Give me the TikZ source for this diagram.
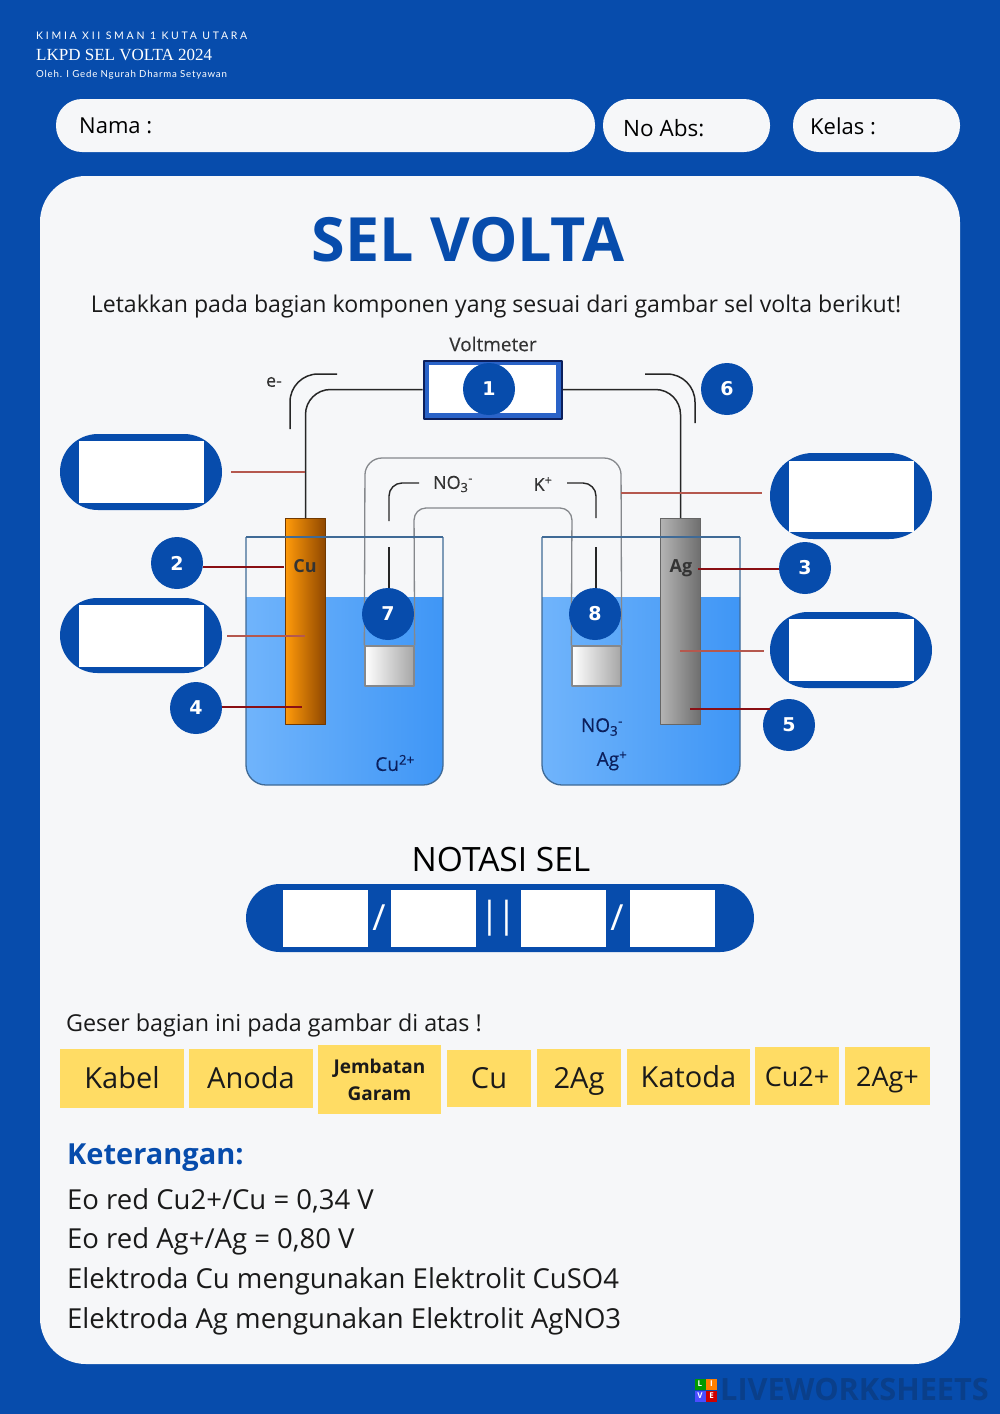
\documentclass[tikz,border=0pt]{standalone}
\usepackage{fontspec}
\setmainfont{Open Sans}
\newfontfamily\spacedfont[LetterSpace=26]{Lato}
\newfontfamily\thinfont[LetterSpace=8]{Lato}
\newfontfamily\headfont{Liberation Serif}
\newfontfamily\numfont{DejaVu Sans}
\newfontfamily\semifont[FakeBold=0.35]{Open Sans}
\definecolor{pageblue}{HTML}{074CAC}
\definecolor{panel}{HTML}{F6F7F9}
\definecolor{chipyellow}{HTML}{FFDC64}
\definecolor{ink}{HTML}{1A1A1A}
\definecolor{liqleft}{HTML}{70B4FB}
\definecolor{liqright}{HTML}{3F96F6}
\definecolor{glass}{HTML}{3F6A96}
\definecolor{bridgeline}{HTML}{85888C}
\definecolor{leadthin}{HTML}{B5584E}
\definecolor{leadthick}{HTML}{8A0F14}
\definecolor{navy}{HTML}{0B1F5C}
\definecolor{framer}{HTML}{2A63C8}
\definecolor{markdark}{HTML}{0A3F8A}
\definecolor{culeft}{HTML}{FF9A0A}
\definecolor{curight}{HTML}{8F4700}
\definecolor{agleft}{HTML}{B4B4B4}
\definecolor{agright}{HTML}{6E6E6E}
\tikzset{
  namepill/.style={fill=panel, rounded corners=26pt, minimum height=53pt, inner sep=0pt},
  blankpill/.style={fill=pageblue, inner sep=0pt},
  blankbox/.style={fill=white, inner sep=0pt},
  badge/.style={circle, fill=pageblue, minimum size=52pt, inner sep=0pt,
    text=white, font=\numfont\bfseries\fontsize{19}{19}\selectfont},
  chip/.style={fill=chipyellow, inner sep=0pt, align=center, text=ink},
  wire/.style={draw=black!85, line width=1.5pt, rounded corners=25pt},
  ionwire/.style={draw=black!85, line width=1.4pt, rounded corners=13pt},
  thinlead/.style={draw=leadthin, line width=1.5pt},
  thicklead/.style={draw=leadthick, line width=2.4pt},
  cellsign/.style={text=white, font=\fontsize{36}{36}\selectfont},
  plug/.style={draw=bridgeline, line width=1.3pt, left color=white, right color=black!35,
    minimum width=49pt, minimum height=40pt, inner sep=0pt},
  infoline/.style={anchor=west, inner sep=0pt, text=ink, font=\fontsize{27.5}{30}\selectfont},
  celltext/.style={inner sep=0pt, text=black!80, font=\semifont\fontsize{18}{20}\selectfont},
  liqtext/.style={inner sep=0pt, text=navy, font=\semifont\fontsize{19}{20}\selectfont},
}
\newcommand{\beaker}[2]{%
  \path[left color=liqleft, right color=liqright] (#1,597)
    [rounded corners=20pt] -- (#1,785) -- (#2,785) [sharp corners] -- (#2,597) -- cycle;
}
\newcommand{\beakerline}[2]{%
  \draw[glass, line width=1.3pt] (#1,537) -- (#2,537);
  \draw[glass, line width=1.3pt, rounded corners=20pt] (#1,537) -- (#1,785) -- (#2,785) -- (#2,537);
}
\newcommand{\blank}[7]{%
  \pgfmathsetmacro{\pillrad}{#5/2}%
  \node[blankpill, rounded corners=\pillrad pt, minimum width=#4pt, minimum height=#5pt] (#1) at (#2,#3) {};
  \node[blankbox, minimum width=#6pt, minimum height=#7pt] (#1box) at (#2,#3) {};
}
\newcommand{\chipbox}[6]{%
  \node[chip, minimum width=#4pt, minimum height=#5pt, text height=23pt, text depth=3pt,
    font=\fontsize{#6}{22}\selectfont] (chip#1) at (#2,#3) {#1};
}

\begin{document}
\begin{tikzpicture}[x=1pt, y=-1pt, line cap=butt, line join=round]
\useasboundingbox (0,0) rectangle (1000,1414);
\fill[pageblue] (0,0) rectangle (1000,1414);

\node[anchor=west, inner sep=0pt, text=white, font=\spacedfont\fontsize{10.5}{12}\selectfont] (school) at (36,36) {KIMIA XII SMAN 1 KUTA UTARA};
\node[anchor=west, inner sep=0pt, text=white, font=\headfont\fontsize{17}{18}\selectfont] (sheet) at (36,55) {LKPD SEL VOLTA 2024};
\node[anchor=west, inner sep=0pt, text=white, font=\thinfont\fontsize{9.7}{11}\selectfont] (author) at (36,75) {Oleh. I Gede Ngurah Dharma Setyawan};

\node[namepill, minimum width=539pt] (nama) at (325.5,125.5) {};
\node[namepill, minimum width=167pt] (abs) at (686.5,125.5) {};
\node[namepill, minimum width=167pt] (kelas) at (876.5,125.5) {};
\node[anchor=west, inner sep=0pt, text=black, font=\fontsize{22}{24}\selectfont] at (79,126) {Nama :};
\node[anchor=west, inner sep=0pt, text=black, font=\fontsize{22.5}{24}\selectfont] at (623,128) {No Abs:};
\node[anchor=west, inner sep=0pt, text=black, font=\fontsize{22}{24}\selectfont] at (810,126) {Kelas :};

\fill[panel, rounded corners=46pt] (40,176) rectangle (960,1364);

\node[inner sep=0pt, text=pageblue, font=\bfseries\fontsize{61}{64}\selectfont] (title) at (468,240) {SEL VOLTA};
\node[inner sep=0pt, text=ink, font=\fontsize{23.1}{28}\selectfont] (task) at (496,306) {Letakkan pada bagian komponen yang sesuai dari gambar sel volta berikut!};

\beaker{246}{443}
\beaker{542}{740}

\node[plug] (plugl) at (389.5,666) {};
\node[plug] (plugr) at (596.5,666) {};
\draw[bridgeline, line width=1.3pt, rounded corners=17pt]
  (plugl.north west) -- (365,458) -- (621,458) -- (plugr.north east);
\draw[bridgeline, line width=1.3pt, rounded corners=12pt]
  (plugl.north east) -- (414,508) -- (572,508) -- (plugr.north west);

\node[draw=curight!80!black, line width=1.2pt, left color=culeft, right color=curight,
  minimum width=40pt, minimum height=206pt, inner sep=0pt] (cuelec) at (305.5,621.5) {};
\node[draw=black!60, line width=1.2pt, left color=agleft, right color=agright,
  minimum width=40pt, minimum height=206pt, inner sep=0pt] (agelec) at (680.5,621.5) {};
\beakerline{246}{443}
\beakerline{542}{740}

\node[draw=navy, line width=2pt, fill=framer, minimum width=138pt, minimum height=58pt, inner sep=0pt] (volt) at (492.5,389.5) {};
\node[fill=white, minimum width=127pt, minimum height=48pt, inner sep=0pt] (voltin) at (492.5,389) {};
\node[celltext, font=\semifont\fontsize{19}{20}\selectfont] (voltlabel) at (493,344) {Voltmeter};

\draw[wire] (cuelec.north) |- (volt.west);
\draw[wire] (agelec.north) |- (volt.east);

\coordinate (ecurveA) at (290,429);
\coordinate (ecurveB) at (337,374);
\coordinate (ecurveC) at (695,423);
\coordinate (ecurveD) at (645,374);
\draw[wire, rounded corners=28pt] (ecurveA) |- (ecurveB);
\draw[wire, rounded corners=28pt] (ecurveC) |- (ecurveD);

\node[badge] (num1) at (489,389) {1};
\node[badge] (num2) at (177,563) {2};
\node[badge] (num3) at (805,568) {3};
\node[badge] (num4) at (196,708) {4};
\node[badge] (num5) at (789,725) {5};
\node[badge] (num6) at (727,389) {6};
\node[badge] (num7) at (388,614) {7};
\node[badge] (num8) at (595,614) {8};

\coordinate (iontopA) at (389,521);
\coordinate (iontopB) at (419,483);
\coordinate (iontopC) at (596,518);
\coordinate (iontopD) at (567,483);
\draw[ionwire] (iontopA) |- (iontopB);
\draw[ionwire] (iontopC) |- (iontopD);
\coordinate (ionlowA) at (389,547);
\coordinate (ionlowB) at (596,547);
\draw[ionwire] (ionlowA) -- (ionlowA |- num7.north);
\draw[ionwire] (ionlowB) -- (ionlowB |- num8.north);

\blank{pilla}{141}{472}{162}{76}{125}{62}
\blank{pillb}{141}{635.5}{162}{75}{125}{62}
\blank{pillc}{851}{496}{162}{86}{125}{71}
\blank{pilld}{851}{650}{162}{76}{125}{62}

\coordinate (leadA) at (305,472);
\coordinate (leadB) at (305,636);
\coordinate (leadC) at (621,493);
\coordinate (leadD) at (680,651);
\coordinate (tipcu) at (284,567);
\coordinate (tipag) at (698,569);
\coordinate (tipcub) at (302,707);
\coordinate (tipagb) at (690,709);
\draw[thinlead, shorten <=9pt] (pilla.east) -- (leadA);
\draw[thinlead, shorten <=5pt] (pillb.east |- leadB) -- (leadB);
\draw[thinlead, shorten <=8pt] (pillc.west |- leadC) -- (leadC);
\draw[thinlead, shorten <=6pt] (pilld.west |- leadD) -- (leadD);
\draw[thicklead] (num2.east |- tipcu) -- (tipcu);
\draw[thicklead] (num3.west |- tipag) -- (tipag);
\draw[thicklead] (num4.east |- tipcub) -- (tipcub);
\draw[thicklead] (num5.north west |- tipagb) -- (tipagb);

\node[celltext] (elabel) at (274,382) {e-};
\node[celltext] (nolabel) at (453,484) {NO\textsubscript{3}\textsuperscript{-}};
\node[celltext] (klabel) at (543,484) {K\textsuperscript{+}};
\node[celltext, font=\bfseries\fontsize{18}{20}\selectfont] (culabel) at (305,566) {Cu};
\node[celltext, font=\bfseries\fontsize{18}{20}\selectfont] (aglabel) at (681,568) {Ag};
\node[liqtext] (cuion) at (395,763) {Cu\textsuperscript{2+}};
\node[liqtext] (noion) at (602,727) {NO\textsubscript{3}\textsuperscript{-}};
\node[liqtext] (agion) at (612,761) {Ag\textsuperscript{+}};

\node[inner sep=0pt, text=black, font=\fontsize{33.5}{36}\selectfont] (notasi) at (501,860) {NOTASI SEL};
\node[fill=pageblue, rounded corners=34pt, minimum width=508pt, minimum height=68pt, inner sep=0pt] (cellbar) at (500,918) {};
\foreach \xc/\boxname in {325.5/cella,433.5/cellb,563.5/cellc,672.5/celld}{
  \node[blankbox, minimum width=85pt, minimum height=57pt] (\boxname) at (\xc,918.5) {};
}
\node[cellsign] at (379,918) {/};
\node[cellsign] at (498,918) {|\kern-3pt|};
\node[cellsign] at (617,918) {/};

\node[anchor=west, inner sep=0pt, text=ink, font=\fontsize{23.3}{26}\selectfont] (geser) at (66,1025) {Geser bagian ini pada gambar di atas !};

\chipbox{Kabel}{122}{1078.5}{124}{59}{29}
\chipbox{Anoda}{251}{1078.5}{124}{59}{29}
\node[chip, minimum width=123pt, minimum height=69pt, font=\bfseries\fontsize{19}{27}\selectfont] (chipGaram) at (379.5,1079.5) {Jembatan\\Garam};
\chipbox{Cu}{489}{1078.5}{84}{57}{29}
\chipbox{2Ag}{579}{1078}{84}{58}{29}
\chipbox{Katoda}{688.5}{1077}{123}{56}{29}
\chipbox{Cu2+}{797}{1076}{84}{58}{27}
\chipbox{2Ag+}{887.5}{1076}{85}{58}{27}

\node[anchor=west, inner sep=0pt, text=pageblue, font=\bfseries\fontsize{29}{32}\selectfont] (keterangan) at (67,1158) {Keterangan:};
\node[infoline] (infoa) at (67,1201) {Eo red Cu2+/Cu = 0,34 V};
\node[infoline] (infob) at (67,1241) {Eo red Ag+/Ag = 0,80 V};
\node[infoline] (infoc) at (67,1281) {Elektroda Cu mengunakan Elektrolit CuSO4};
\node[infoline] (infod) at (67,1321) {Elektroda Ag mengunakan Elektrolit AgNO3};

\foreach \xc/\yc/\tilecol/\tilechar in {700/1384/green!60!black/L,711.5/1384/orange/I,700/1396/blue!70/V,711.5/1396/red!80!black/E}{
  \node[fill=\tilecol, minimum size=11pt, inner sep=0pt, text=white, font=\bfseries\fontsize{8}{8}\selectfont] at (\xc,\yc) {\tilechar};
}
\node[anchor=west, inner sep=0pt, text=markdark, font=\bfseries\fontsize{30.7}{32}\selectfont] (livemark) at (720,1390) {LIVEWORKSHEETS};
\end{tikzpicture}
\end{document}
